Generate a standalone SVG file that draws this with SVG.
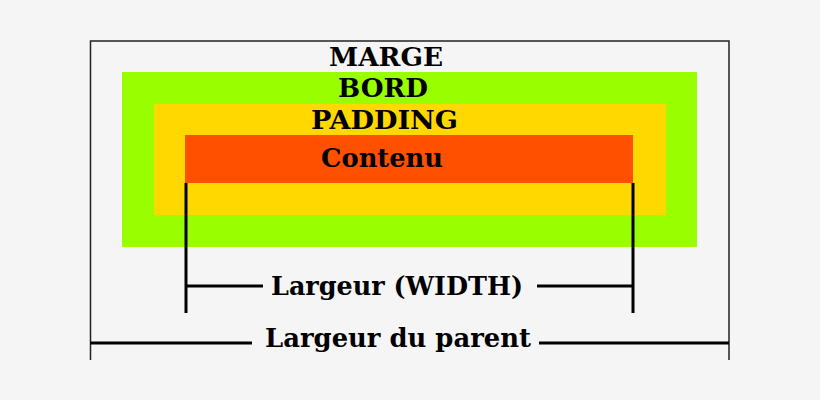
<svg xmlns="http://www.w3.org/2000/svg" width="820" height="400" viewBox="0 0 820 400">
<style>
.t{font-family:"DejaVu Serif","Liberation Serif",serif;font-weight:bold;font-size:26px;fill:#000}
.dim{stroke:#000;stroke-width:3;fill:none}
.frame{stroke:#222;stroke-width:1.5;fill:none}
</style>
<rect x="0" y="0" width="820" height="400" fill="#f5f5f5"/>
<g id="marge">
<path class="frame" d="M90.5 360 V41 H729 V360"/>
<text class="t" x="386" y="66" text-anchor="middle" textLength="114" lengthAdjust="spacingAndGlyphs">MARGE</text>
</g>
<g id="bord">
<rect x="122" y="72" width="575" height="175" fill="#99ff00"/>
<text class="t" x="383" y="97" text-anchor="middle" textLength="90" lengthAdjust="spacingAndGlyphs">BORD</text>
</g>
<g id="padding">
<rect x="154" y="104" width="512" height="111" fill="#ffd800"/>
<text class="t" x="384.5" y="129" text-anchor="middle" textLength="147" lengthAdjust="spacingAndGlyphs">PADDING</text>
</g>
<g id="contenu">
<rect x="185" y="135" width="448" height="48" fill="#ff5000"/>
<text class="t" x="382" y="167" text-anchor="middle" textLength="122" lengthAdjust="spacingAndGlyphs">Contenu</text>
</g>
<g id="connectors">
<path class="dim" d="M186 183 V313 M633 183 V313 M186 286 H263 M537 286 H633"/>
<path class="dim" d="M90 343 H252 M539 343 H729"/>
</g>
<g id="largeur-width">
<text class="t" x="397" y="295" text-anchor="middle" textLength="252" lengthAdjust="spacingAndGlyphs">Largeur (WIDTH)</text>
</g>
<g id="largeur-parent">
<text class="t" x="398" y="347" text-anchor="middle" textLength="266" lengthAdjust="spacingAndGlyphs">Largeur du parent</text>
</g>
</svg>
